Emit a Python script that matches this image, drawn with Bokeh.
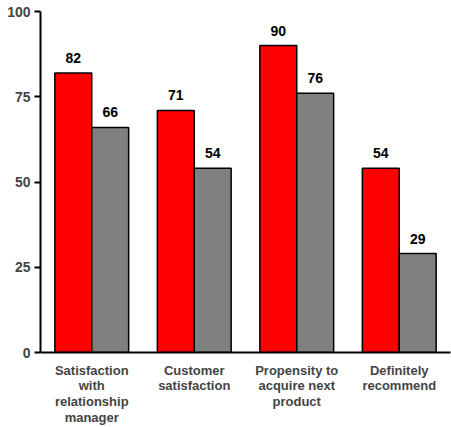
from bokeh.plotting import figure
from bokeh.models import ColumnDataSource, FactorRange, LabelSet, FixedTicker
from bokeh.core.properties import value
from bokeh.transform import dodge
from bokeh.embed import file_html
from bokeh.resources import INLINE

categories = [
    "Satisfaction\nwith\nrelationship\nmanager",
    "Customer\nsatisfaction",
    "Propensity to\nacquire next\nproduct",
    "Definitely\nrecommend",
]
series_a = [82, 71, 90, 54]
series_b = [66, 54, 76, 29]
y_ticks = [0, 25, 50, 75, 100]

FONT = "Liberation Sans"

src = ColumnDataSource(dict(
    cat=categories,
    a=series_a,
    b=series_b,
    a_txt=[str(v) for v in series_a],
    b_txt=[str(v) for v in series_b],
))

p = figure(
    frame_width=410, frame_height=341,
    x_range=FactorRange(*categories, range_padding=0),
    y_range=(0, 100),
    output_backend="svg", toolbar_location=None,
    min_border_left=40, min_border_right=1, min_border_top=11, min_border_bottom=0,
)

bw = 0.36
p.vbar(x=dodge("cat", -bw / 2, range=p.x_range), top="a", width=bw, source=src,
       fill_color="#FF0000", line_color="black", line_width=1.5)
p.vbar(x=dodge("cat", bw / 2, range=p.x_range), top="b", width=bw, source=src,
       fill_color="#808080", line_color="black", line_width=1.5)

for col, txt, off in (("a", "a_txt", -bw / 2), ("b", "b_txt", bw / 2)):
    p.add_layout(LabelSet(
        x=dodge("cat", off, range=p.x_range), y=col, text=txt, source=src,
        text_align="center", text_baseline="bottom", y_offset=10,
        text_font=value(FONT), text_font_style="bold", text_font_size="14px",
        text_color="black",
    ))

p.xgrid.visible = False
p.ygrid.visible = False
p.outline_line_color = None
p.background_fill_color = "white"
p.border_fill_color = "white"

ya = p.yaxis[0]
ya.ticker = FixedTicker(ticks=y_ticks)
ya.axis_line_width = 2
ya.axis_line_color = "black"
ya.major_tick_line_width = 2
ya.major_tick_out = 6
ya.major_tick_in = 0
ya.minor_tick_line_color = None
ya.major_label_text_font = FONT
ya.major_label_text_font_style = "bold"
ya.major_label_text_font_size = "14px"
ya.major_label_standoff = 4

xa = p.xaxis[0]
xa.axis_line_width = 2
xa.axis_line_color = "black"
xa.major_tick_line_color = None
xa.minor_tick_line_color = None
xa.major_label_text_font = FONT
xa.major_label_text_font_style = "bold"
xa.major_label_text_font_size = "13px"
xa.major_label_standoff = 4
xa.major_label_text_line_height = 1.05

open("out.html", "w").write(file_html(p, INLINE))
